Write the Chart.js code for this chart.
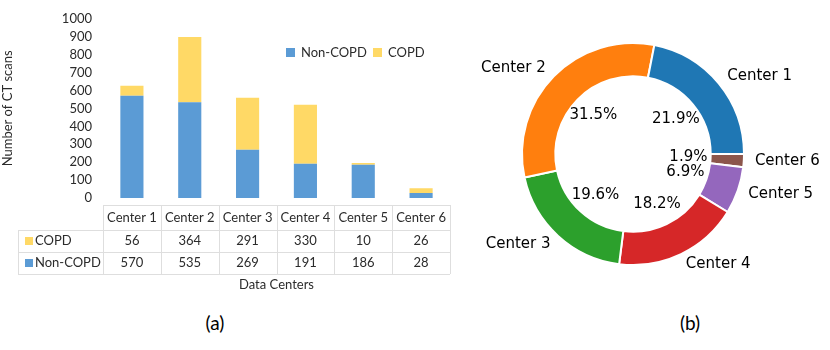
<!DOCTYPE html>
<html>
<head>
<meta charset="utf-8">
<script src="https://cdn.jsdelivr.net/npm/chart.js@4.4.0/dist/chart.umd.min.js"></script>
<style>
    html, body { margin: 0; padding: 0; background: #fff; }
    body { width: 830px; height: 350px; position: relative; overflow: hidden; font-family: Lato, sans-serif; }
    #barWrap { position: absolute; left: 0; top: 0; width: 460px; height: 300px; }
    #pieWrap { position: absolute; left: 460px; top: 0; width: 370px; height: 300px; }
    .caption { position: absolute; top: 311px; width: 60px; text-align: center; font-size: 19px; color: #000; }
</style>
</head>
<body>
<div id="barWrap"><canvas id="barChart"></canvas></div>
<div id="pieWrap"><canvas id="pieChart"></canvas></div>
<div class="caption" style="left:185px">(a)</div>
<div class="caption" style="left:660px">(b)</div>

<script>
// ==========================================
// DATA
// ==========================================
const centers = ['Center 1', 'Center 2', 'Center 3', 'Center 4', 'Center 5', 'Center 6'];
const copdScans = [56, 364, 291, 330, 10, 26];
const nonCopdScans = [570, 535, 269, 191, 186, 28];

const COLOR_NON = '#5B9BD5';
const COLOR_COPD = '#FFD966';
const TEXT = '#2b2b2b';
const LINE = '#dedede';
const pieColors = ['#1f77b4', '#ff7f0e', '#2ca02c', '#d62728', '#9467bd', '#8c564b'];

// ==========================================
// (a) stacked bars + data table
// ==========================================
const tablePlugin = {
    id: 'dataTable',
    afterDraw(chart) {
        const ctx = chart.ctx;
        const x = chart.scales.x;
        const area = chart.chartArea;
        const n = centers.length;
        const colW = (x.right - x.left) / n;
        const top = area.bottom + 7;
        const rows = [top, top + 25, top + 47, top + 69];

        ctx.save();
        ctx.strokeStyle = LINE;
        ctx.lineWidth = 1;
        ctx.beginPath();
        // header top line + verticals
        ctx.moveTo(x.left, rows[0] + 0.5); ctx.lineTo(x.right, rows[0] + 0.5);
        for (let i = 1; i < 4; i++) {
            ctx.moveTo(18, rows[i] + 0.5); ctx.lineTo(x.right, rows[i] + 0.5);
        }
        for (let i = 0; i <= n; i++) {
            const cx = Math.round(x.left + i * colW) + 0.5;
            ctx.moveTo(cx, rows[0]); ctx.lineTo(cx, rows[3]);
        }
        ctx.moveTo(18.5, rows[1]); ctx.lineTo(18.5, rows[3]);
        ctx.stroke();

        ctx.fillStyle = TEXT;
        ctx.font = '13px Lato';
        ctx.textAlign = 'center';
        ctx.textBaseline = 'middle';
        centers.forEach((c, i) => {
            const cx = x.getPixelForValue(i);
            ctx.fillText(c, cx, (rows[0] + rows[1]) / 2);
            ctx.fillText(String(copdScans[i]), cx, (rows[1] + rows[2]) / 2);
            ctx.fillText(String(nonCopdScans[i]), cx, (rows[2] + rows[3]) / 2);
        });

        // row labels with keys
        const rowLabels = [['COPD', COLOR_COPD], ['Non-COPD', COLOR_NON]];
        rowLabels.forEach(([lab, col], r) => {
            const cy = (rows[r + 1] + rows[r + 2]) / 2;
            ctx.fillStyle = col;
            ctx.fillRect(25, cy - 4, 8, 8);
            ctx.fillStyle = TEXT;
            ctx.textAlign = 'left';
            ctx.fillText(lab, 35, cy);
        });

        // axis title under the table
        ctx.textAlign = 'center';
        ctx.fillText('Data Centers', (x.left + x.right) / 2, rows[3] + 11);

        // legend
        const legendItems = [['Non-COPD', COLOR_NON, 286], ['COPD', COLOR_COPD, 373]];
        legendItems.forEach(([lab, col, lx]) => {
            ctx.fillStyle = col;
            ctx.fillRect(lx, 48, 9, 9);
            ctx.fillStyle = TEXT;
            ctx.textAlign = 'left';
            ctx.fillText(lab, lx + 15, 53);
        });
        ctx.restore();
    }
};

new Chart(document.getElementById('barChart'), {
    type: 'bar',
    data: {
        labels: centers,
        datasets: [
            { label: 'Non-COPD', data: nonCopdScans, backgroundColor: COLOR_NON },
            { label: 'COPD', data: copdScans, backgroundColor: COLOR_COPD }
        ]
    },
    options: {
        responsive: true,
        maintainAspectRatio: false,
        animation: false,
        layout: { padding: { top: 0, right: 10, bottom: 102, left: 0 } },
        datasets: { bar: { barPercentage: 0.4, categoryPercentage: 1.0 } },
        plugins: { legend: { display: false }, tooltip: { enabled: false } },
        scales: {
            x: { stacked: true, display: false },
            y: {
                stacked: true, min: 0, max: 1000,
                afterFit(scale) { scale.width = 103; },
                grid: { display: false, drawTicks: false },
                border: { display: false },
                ticks: {
                    stepSize: 100, padding: 11, color: TEXT,
                    font: { family: 'Lato', size: 13 },
                    callback: v => String(v)
                },
                title: { display: true, text: 'Number of CT scans', color: TEXT, padding: 0, font: { family: 'Lato', size: 13 } }
            }
        }
    },
    plugins: [tablePlugin]
});

// ==========================================
// (b) share of scans per center (doughnut)
// ==========================================
const totals = centers.map((c, i) => copdScans[i] + nonCopdScans[i]);
const grandTotal = totals.reduce((a, b) => a + b, 0);
// counter-clockwise from 3 o'clock, like the original: feed reversed order clockwise
const pieLabels = centers.slice().reverse();
const pieValues = totals.slice().reverse();
const pieFill = pieColors.slice().reverse();

const pieLabelPlugin = {
    id: 'pieLabels',
    afterDraw(chart) {
        const ctx = chart.ctx;
        const arcs = chart.getDatasetMeta(0).data;
        ctx.save();
        ctx.fillStyle = '#000';
        ctx.font = '15px "DejaVu Sans"';
        ctx.textBaseline = 'middle';
        arcs.forEach((arc, i) => {
            const mid = (arc.startAngle + arc.endAngle) / 2;
            const R = arc.outerRadius;
            const cos = Math.cos(mid), sin = Math.sin(mid);
            ctx.textAlign = cos > 0 ? 'left' : 'right';
            ctx.fillText(pieLabels[i], arc.x + cos * R * 1.1, arc.y + sin * R * 1.1);
            ctx.textAlign = 'center';
            const pct = (pieValues[i] / grandTotal * 100).toFixed(1) + '%';
            ctx.fillText(pct, arc.x + cos * R * 0.5, arc.y + sin * R * 0.5);
        });
        ctx.restore();
    }
};

new Chart(document.getElementById('pieChart'), {
    type: 'doughnut',
    data: {
        labels: pieLabels,
        datasets: [{ data: pieValues, backgroundColor: pieFill, borderColor: '#fff', borderWidth: 2, hoverOffset: 0 }]
    },
    options: {
        responsive: true,
        maintainAspectRatio: false,
        animation: false,
        rotation: 90,
        cutout: '70%',
        layout: { padding: { top: 42, right: 85, bottom: 34, left: 61 } },
        plugins: { legend: { display: false }, tooltip: { enabled: false } }
    },
    plugins: [pieLabelPlugin]
});
</script>
</body>
</html>
